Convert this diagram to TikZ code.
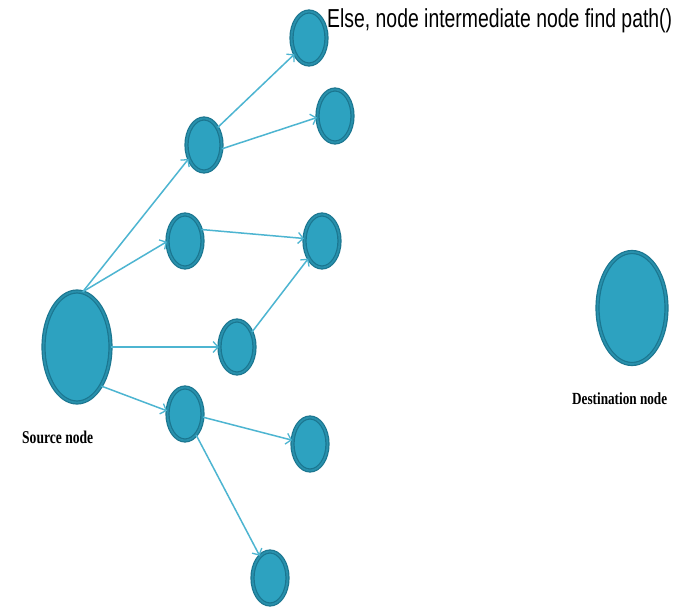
\documentclass[tikz,border=0pt]{standalone}
\usepackage{fontspec}
\setmainfont{Liberation Serif}
\newfontfamily\titlefont{Liberation Sans}
\usetikzlibrary{shapes.geometric,arrows.meta}
\definecolor{nodefill}{HTML}{2DA2C0}
\definecolor{noderim}{HTML}{1B7690}
\definecolor{nodering}{HTML}{2890AC}
\definecolor{edgecol}{HTML}{4DB5D1}
\tikzset{
  vertex/.style={ellipse, draw=noderim, line width=1.2pt, double=nodering,
    double distance=1.8pt, fill=nodefill, inner sep=0pt,
    minimum width=35pt, minimum height=53pt},
  bigvertex/.style={vertex, minimum width=67pt, minimum height=111pt},
  link/.style={draw=edgecol, line width=1.5pt,
    -{Straight Barb[length=5pt,width=11pt,line width=1.3pt]}},
  caption/.style={inner sep=0pt, anchor=base west}
}
\begin{document}
\begin{tikzpicture}[x=1pt,y=-1pt]
  \useasboundingbox (0,0) rectangle (688,607);
  \fill[white] (0,0) rectangle (688,607);

  % nodes
  \node[bigvertex] (src) at (77,347) {};
  \node[bigvertex, minimum width=69pt, minimum height=112pt] (dst) at (632,308) {};
  \node[vertex] (n1) at (309,38) {};
  \node[vertex] (n2) at (335,116) {};
  \node[vertex] (n3) at (204,145) {};
  \node[vertex] (n4) at (185,241) {};
  \node[vertex] (n5) at (322,241) {};
  \node[vertex] (n6) at (237,347) {};
  \node[vertex] (n7) at (185,414) {};
  \node[vertex] (n8) at (310,444) {};
  \node[vertex] (n9) at (270,578) {};

  % connectors
  \draw[link] (src.84) -- (n3.222);
  \draw[link] (src.84) -- (n4.182);
  \draw[link] (src.east) -- (n6.west);
  \draw[link] (src.-58) -- (n7.170);
  \draw[link] (n3.52) -- (n1.228);
  \draw[link] (n3.-12) -- (n2.185);
  \draw[link] (n4.35) -- (n5.172);
  \draw[link] (n6.45) -- (n5.232);
  \draw[link] (n7.-10) -- (n8.168);
  \draw[link] (n7.-62) -- (n9.115);

  % labels
  \node[caption] (title) at (327,28)
    {\resizebox{345pt}{\height}{\titlefont\fontsize{26}{30}\selectfont Else, node intermediate node find path()}};
  \node[caption] (srclabel) at (22,443)
    {\resizebox{71pt}{\height}{\fontsize{18}{21}\selectfont\bfseries Source node}};
  \node[caption] (dstlabel) at (572,404)
    {\resizebox{95pt}{\height}{\fontsize{17}{20}\selectfont\bfseries Destination node}};
\end{tikzpicture}
\end{document}
